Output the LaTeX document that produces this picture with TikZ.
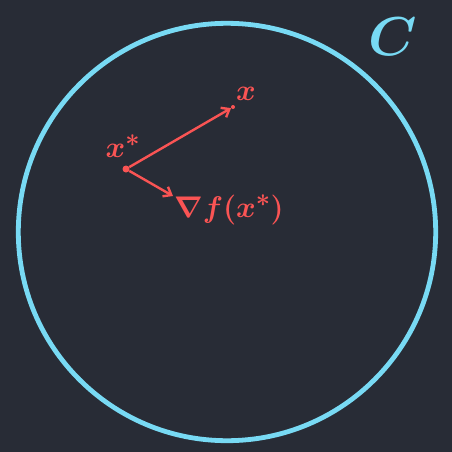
\documentclass[tikz,border=0pt]{standalone}
\usepackage{amsmath}
\usetikzlibrary{arrows.meta}
\definecolor{bg}{RGB}{40,44,54}
\definecolor{setc}{RGB}{120,218,244}
\definecolor{pt}{RGB}{250,84,84}
\newcommand{\hw}[2]{\scalebox{#1}{\boldmath$#2$}}
\tikzset{
	dot/.style = {circle, fill = pt, inner sep = 0pt, minimum size = #1},
	vec/.style = {pt, line width = 2.4pt, -{Straight Barb[length=7pt, width=11pt, line width=2.4pt]}},
	lbl/.style = {text = pt, inner sep = 0pt, font = \Huge}
}

\begin{document}
\begin{tikzpicture}[x=1pt, y=-1pt]
	\fill[bg] (0,0) rectangle (452,452);
	\draw[setc, line width = 4.8pt] (227,232) circle (208.7);
	\node[text = setc, font = \Huge] (C) at (393,37) {\hw{2.2}{C}};
	\node[dot = 7pt] (xs) at (126,169) {};
	\node[dot = 4pt] (xp) at (233,107) {};
	\coordinate (g) at (173,196);
	\draw[vec] (xs) -- (xp);
	\draw[vec] (xs) -- (g);
	\node[lbl] (xl) at (246,94) {\hw{1.2}{x}};
	\node[lbl] (xsl) at (123,146) {\hw{1.2}{x^{*}}};
	\node[lbl] (gl) at (229,210) {\hw{1.2}{\nabla f(x^{*})}};
\end{tikzpicture}
\end{document}
